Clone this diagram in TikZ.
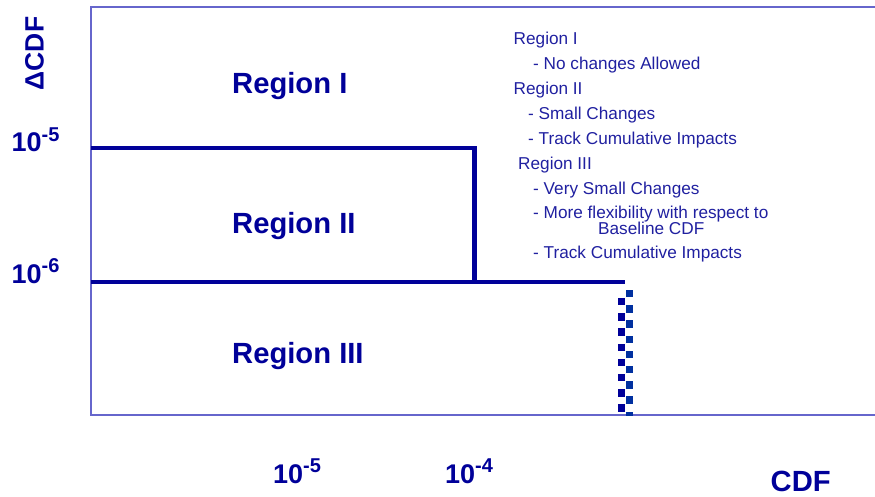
\documentclass[tikz,border=0pt]{standalone}
\usepackage{fontspec}
\setmainfont{Liberation Sans}
\definecolor{navy}{HTML}{000099}
\definecolor{frameblue}{HTML}{6666CC}
\definecolor{txtblue}{HTML}{2020A0}
\definecolor{checkb}{HTML}{0030A0}
\newcommand\expo[1]{\raisebox{10.5pt}{\fontsize{20}{20}\selectfont #1}}
\tikzset{
  frameline/.style={draw=frameblue, line width=2pt},
  thickline/.style={draw=navy, line width=4.5pt},
  biglabel/.style={inner sep=0pt, anchor=base west, text=navy, font=\fontsize{29.2}{31}\selectfont\bfseries},
  ticklabel/.style={inner sep=0pt, anchor=base west, text=navy, font=\fontsize{27}{30}\selectfont\bfseries},
  notetext/.style={inner sep=0pt, anchor=base west, text=txtblue, font=\fontsize{17.2}{19}\selectfont},
}
\begin{document}
\begin{tikzpicture}[x=1pt, y=-1pt]
\useasboundingbox (0,0) rectangle (875,496);
% frame
\coordinate (tl) at (91,6.5);
\coordinate (tr) at (876,6.5);
\coordinate (bl) at (91,414.7);
\coordinate (br) at (876,414.7);
\draw[frameline] (tr) -- (tl) -- (bl) -- (br);
% thick boundary lines
\coordinate (a1) at (91,148);
\coordinate (a2) at (474.5,148);
\coordinate (a3) at (474.5,282);
\coordinate (b1) at (91,282);
\coordinate (b2) at (625,282);
\draw[thickline, line join=miter] (a1) -- (a2) -- (a3);
\draw[thickline] (b1) -- (b2);
% checkered vertical boundary
\begin{scope}
\clip (610,284) rectangle (640,415.7);
\foreach \k in {0,...,8} {
  \fill[navy] (618.2,298+15.2*\k) rectangle +(7.2,7.3);
  \fill[checkb] (625.6,290+15.2*\k) rectangle +(7.7,7.3);
}
\end{scope}
% region labels
\node[biglabel] (r1) at (232,93.3) {Region I};
\node[biglabel] (r2) at (232,233.3) {Region II};
\node[biglabel] (r3) at (232,363.3) {Region III};
% y axis
\node[ticklabel] (y5) at (11.5,151.5) {10\expo{-5}};
\node[ticklabel] (y6) at (11.5,283.3) {10\expo{-6}};
\node[inner sep=0pt, anchor=base west, rotate=90, text=navy, font=\fontsize{26.5}{28}\selectfont\bfseries] (ylab) at (43.5,90.5) {ΔCDF};
% x axis
\node[ticklabel] (x5) at (273,483) {10\expo{-5}};
\node[ticklabel] (x4) at (445,483) {10\expo{-4}};
\node[biglabel] (xlab) at (770.5,491.3) {CDF};
% notes
\node[notetext] (n1) at (513.5,44) {Region I};
\node[notetext] (n2) at (533,69) {- No changes Allowed};
\node[notetext] (n3) at (513.5,94) {Region II};
\node[notetext] (n4) at (528,119) {- Small Changes};
\node[notetext] (n5) at (528,144) {- Track Cumulative Impacts};
\node[notetext] (n6) at (518,169) {Region III};
\node[notetext] (n7) at (533,194) {- Very Small Changes};
\node[notetext] (n8) at (533,218.5) {- More flexibility with respect to};
\node[notetext] (n9) at (598,234) {Baseline CDF};
\node[notetext] (n10) at (533,258) {- Track Cumulative Impacts};
\end{tikzpicture}
\end{document}
